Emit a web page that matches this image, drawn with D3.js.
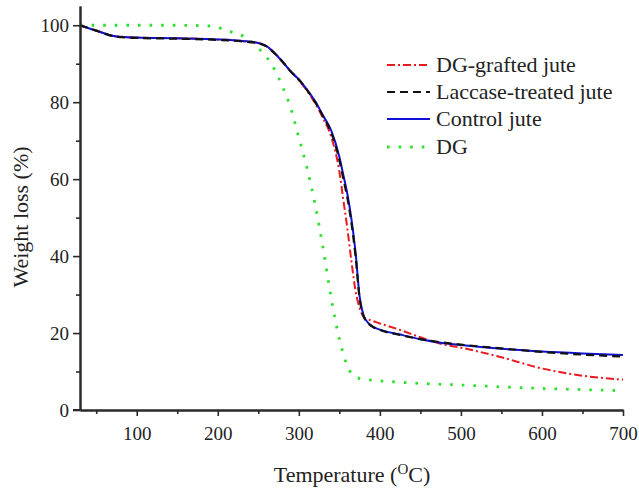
<!DOCTYPE html>
<html>
<head>
<meta charset="utf-8">
<script src="https://cdn.jsdelivr.net/npm/d3@7"></script>
<style>
  html, body { margin: 0; padding: 0; background: #fff; }
  svg { display: block; }
  text { font-family: "Liberation Serif", "Times New Roman", serif; fill: #222; }
</style>
</head>
<body>
<svg id="chart" width="639" height="488"></svg>
<script>
// ---- data ----
const seriesNames = ["DG-grafted jute", "Laccase-treated jute", "Control jute", "DG"];

const juteTemp = [30, 50, 75, 100, 150, 200, 230, 250, 260, 270, 280, 290, 300, 310, 320, 330, 340, 350, 355, 360, 365, 370, 375, 380, 385, 390, 400, 425, 450, 475, 500, 550, 600, 650, 700];
const graftedWeight = [100, 98.6, 97.1, 96.8, 96.6, 96.3, 95.9, 95.4, 94.6, 92.8, 90.5, 88.0, 85.7, 83.0, 79.8, 75.8, 71.0, 62.0, 54.5, 47.0, 38.5, 31.0, 26.5, 24.2, 23.6, 23.2, 22.5, 20.8, 18.9, 17.2, 16.2, 13.7, 10.8, 8.9, 7.9];
const laccaseWeight = [100, 98.6, 97.0, 96.7, 96.5, 96.2, 95.8, 95.3, 94.5, 92.7, 90.5, 88.0, 85.9, 83.2, 80.1, 76.3, 72.1, 65.0, 60.0, 55.0, 48.5, 40.0, 29.0, 24.3, 22.7, 21.8, 20.8, 19.5, 18.4, 17.6, 17.0, 16.0, 15.1, 14.4, 13.9];
const controlWeight = [100, 98.6, 97.1, 96.8, 96.6, 96.3, 95.9, 95.4, 94.6, 92.8, 90.5, 88.0, 85.9, 83.3, 80.3, 76.5, 72.6, 65.8, 61.0, 56.0, 49.5, 41.0, 29.5, 24.5, 22.8, 21.8, 20.9, 19.6, 18.4, 17.5, 16.9, 15.9, 15.2, 14.7, 14.3];

const dgTemp = [30, 100, 150, 190, 200, 210, 220, 230, 240, 250, 260, 270, 280, 290, 300, 310, 320, 330, 340, 350, 355, 360, 365, 370, 380, 400, 450, 500, 550, 600, 650, 700];
const dgWeight = [100, 100, 100, 99.8, 99.4, 98.7, 98.0, 97.3, 96.0, 94.0, 91.8, 88.5, 84.0, 78.5, 70.8, 63.0, 53.5, 42.0, 29.0, 18.5, 14.5, 11.3, 9.5, 8.6, 8.0, 7.6, 6.9, 6.5, 6.0, 5.6, 5.3, 5.0];

const xMajorTicks = [100, 200, 300, 400, 500, 600, 700];
const xMinorTicks = [50, 150, 250, 350, 450, 550, 650];
const yMajorTicks = [0, 20, 40, 60, 80, 100];
const yMinorTicks = [10, 30, 50, 70, 90];

const xTitle = "Temperature (";
const yTitle = "Weight loss (%)";

// ---- layout ----
const svg = d3.select("#chart");
const margin = { left: 80, right: 16, top: 6, bottom: 78 };
const W = 639, H = 488;

const x = d3.scaleLinear().domain([30, 700]).range([margin.left, W - margin.right]);
const y = d3.scaleLinear().domain([0, 105]).range([H - margin.bottom, margin.top]);

const styles = [
  { color: "#e8191f", dash: "8,3,2,3", width: 2 },
  { color: "#111111", dash: "8,5", width: 2.2 },
  { color: "#1010d8", dash: null, width: 2 },
  { color: "#2de02d", dash: "2.6,9", width: 2.8 }
];

const series = [
  juteTemp.map((t, i) => [t, graftedWeight[i]]),
  juteTemp.map((t, i) => [t, laccaseWeight[i]]),
  juteTemp.map((t, i) => [t, controlWeight[i]]),
  dgTemp.map((t, i) => [t, dgWeight[i]])
];

const line = d3.line().x(d => x(d[0])).y(d => y(d[1])).curve(d3.curveMonotoneX);

// draw order: DG behind, then grafted, control, laccase
const order = [3, 0, 2, 1];
order.forEach(k => {
  svg.append("path")
    .datum(series[k])
    .attr("fill", "none")
    .attr("stroke", styles[k].color)
    .attr("stroke-width", styles[k].width)
    .attr("stroke-dasharray", styles[k].dash)
    .attr("d", line);
});

// ---- axes ----
const axisColor = "#2a2a2a";
const xAxis = svg.append("g").attr("transform", `translate(0,${y(0)})`)
  .call(d3.axisBottom(x).tickValues(xMajorTicks).tickSize(6).tickPadding(11).tickSizeOuter(0));
const xMinor = svg.append("g").attr("transform", `translate(0,${y(0)})`)
  .call(d3.axisBottom(x).tickValues(xMinorTicks).tickSize(4).tickFormat("").tickSizeOuter(0));
const yAxis = svg.append("g").attr("transform", `translate(${x(30)},0)`)
  .call(d3.axisLeft(y).tickValues(yMajorTicks).tickSize(7).tickPadding(4).tickSizeOuter(0));
const yMinor = svg.append("g").attr("transform", `translate(${x(30)},0)`)
  .call(d3.axisLeft(y).tickValues(yMinorTicks).tickSize(4).tickFormat("").tickSizeOuter(0));

[xAxis, xMinor, yAxis, yMinor].forEach(g => {
  g.selectAll("path.domain").attr("stroke", axisColor).attr("stroke-width", 2);
  g.selectAll(".tick line").attr("stroke", axisColor).attr("stroke-width", 1.6);
  g.selectAll(".tick text").attr("font-family", "Liberation Serif").attr("font-size", 19).attr("fill", "#222");
});
// extend x axis line left to meet y ticks
svg.append("line").attr("x1", x(30) - 7).attr("x2", x(30)).attr("y1", y(0)).attr("y2", y(0))
  .attr("stroke", axisColor).attr("stroke-width", 2);

// ---- titles ----
const xt = svg.append("text")
  .attr("x", 352).attr("y", 482)
  .attr("text-anchor", "middle")
  .attr("font-size", 22);
xt.append("tspan").text(xTitle);
xt.append("tspan").attr("font-size", 15).attr("dy", -8).text("O");
xt.append("tspan").attr("dy", 8).text("C)");

svg.append("text")
  .attr("transform", "translate(28,217) rotate(-90)")
  .attr("text-anchor", "middle")
  .attr("font-size", 22)
  .text(yTitle);

// ---- legend ----
const legendY = [65, 92, 119, 147];
seriesNames.forEach((name, k) => {
  svg.append("line")
    .attr("x1", 387).attr("x2", 430)
    .attr("y1", legendY[k]).attr("y2", legendY[k])
    .attr("stroke", styles[k].color)
    .attr("stroke-width", styles[k].width)
    .attr("stroke-dasharray", styles[k].dash);
  svg.append("text")
    .attr("x", 436).attr("y", legendY[k])
    .attr("dy", "0.33em")
    .attr("font-size", 22)
    .text(name);
});
</script>
</body>
</html>
